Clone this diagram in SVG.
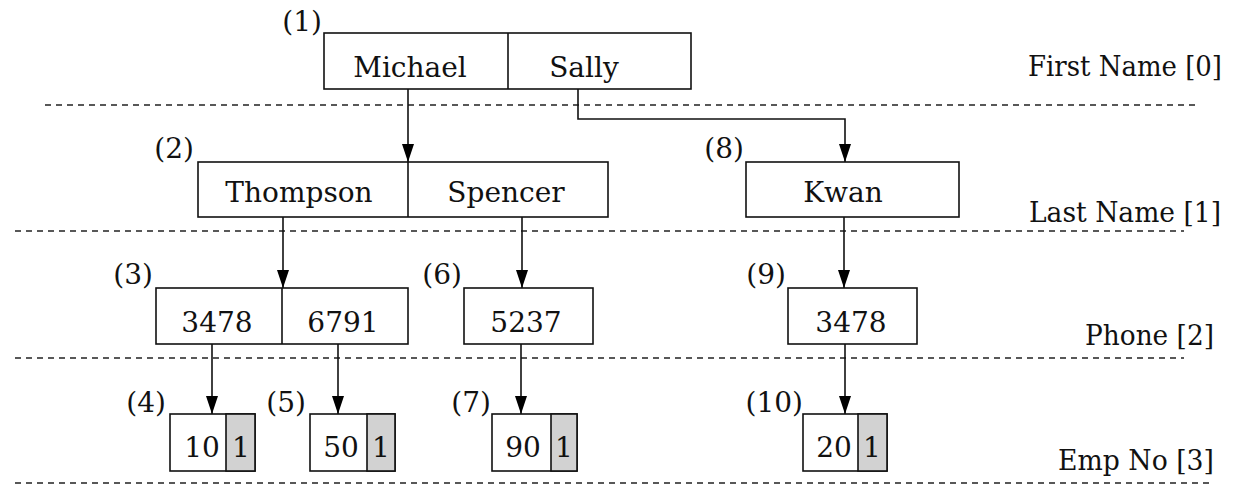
<svg xmlns="http://www.w3.org/2000/svg" width="1233" height="485" viewBox="0 0 1233 485" font-family="'DejaVu Serif', 'Liberation Serif', serif">
  <defs>
    <marker id="arrow" viewBox="0 0 18 12" refX="18" refY="6" markerWidth="18" markerHeight="12" markerUnits="userSpaceOnUse" orient="auto">
      <path d="M0,0 L18,6 L0,12 Z" fill="#000"/>
    </marker>
    <style>
      text { font-size: 28px; fill: #111; }
      .box { fill: #fff; stroke: #111; stroke-width: 1.6; }
      .cell { fill: #d2d2d2; stroke: #111; stroke-width: 1.6; }
      .div { stroke: #111; stroke-width: 1.6; }
      .level { stroke: #222; stroke-width: 1.4; stroke-dasharray: 6 5; fill: none; }
      .edge { stroke: #111; stroke-width: 1.6; fill: none; }
      .mid { text-anchor: middle; }
      .end { text-anchor: end; }
    </style>
  </defs>
  <rect width="1233" height="485" fill="#fff"/>

  <!-- level separators and level names -->
  <g id="levels">
    <line class="level" x1="45" y1="105" x2="1198" y2="105"/>
    <line class="level" x1="15" y1="231" x2="1184" y2="231"/>
    <line class="level" x1="15" y1="358" x2="1184" y2="358"/>
    <line class="level" x1="15" y1="483" x2="1214" y2="483"/>
    <text class="end" x="1222" y="76" textLength="194" lengthAdjust="spacingAndGlyphs">First Name [0]</text>
    <text class="end" x="1221" y="222" textLength="192" lengthAdjust="spacingAndGlyphs">Last Name [1]</text>
    <text class="end" x="1214" y="345" textLength="129" lengthAdjust="spacingAndGlyphs">Phone [2]</text>
    <text class="end" x="1214" y="470" textLength="156" lengthAdjust="spacingAndGlyphs">Emp No [3]</text>
  </g>

  <!-- connectors -->
  <g id="connectors">
    <path class="edge" d="M408,89 V162" marker-end="url(#arrow)"/>
    <path class="edge" d="M578,89 V119 H845 V162" marker-end="url(#arrow)"/>
    <path class="edge" d="M283,217 V288" marker-end="url(#arrow)"/>
    <path class="edge" d="M522,217 V288" marker-end="url(#arrow)"/>
    <path class="edge" d="M844,217 V288" marker-end="url(#arrow)"/>
    <path class="edge" d="M212,344 V414" marker-end="url(#arrow)"/>
    <path class="edge" d="M338,344 V414" marker-end="url(#arrow)"/>
    <path class="edge" d="M521,344 V414" marker-end="url(#arrow)"/>
    <path class="edge" d="M845,344 V414" marker-end="url(#arrow)"/>
  </g>

  <!-- (1) first names -->
  <g id="node1">
    <rect class="box" x="324" y="33" width="367" height="56"/>
    <line class="div" x1="508" y1="33" x2="508" y2="89"/>
    <text class="mid" x="410" y="77">Michael</text>
    <text class="mid" x="584" y="77">Sally</text>
    <text class="end" x="322" y="31">(1)</text>
  </g>

  <!-- (2) last names under Michael -->
  <g id="node2">
    <rect class="box" x="198" y="162" width="410" height="55"/>
    <line class="div" x1="408" y1="162" x2="408" y2="217"/>
    <text class="mid" x="299" y="202">Thompson</text>
    <text class="mid" x="506" y="202">Spencer</text>
    <text class="end" x="194" y="158">(2)</text>
  </g>

  <!-- (8) last names under Sally -->
  <g id="node8">
    <rect class="box" x="746" y="162" width="213" height="55"/>
    <text class="mid" x="843" y="202">Kwan</text>
    <text class="end" x="744" y="158">(8)</text>
  </g>

  <!-- (3) phones under Thompson -->
  <g id="node3">
    <rect class="box" x="156" y="288" width="252" height="56"/>
    <line class="div" x1="282" y1="288" x2="282" y2="344"/>
    <text class="mid" x="217" y="332">3478</text>
    <text class="mid" x="343" y="332">6791</text>
    <text class="end" x="153" y="284">(3)</text>
  </g>

  <!-- (6) phones under Spencer -->
  <g id="node6">
    <rect class="box" x="464" y="288" width="129" height="56"/>
    <text class="mid" x="526" y="332">5237</text>
    <text class="end" x="462" y="284">(6)</text>
  </g>

  <!-- (9) phones under Kwan -->
  <g id="node9">
    <rect class="box" x="788" y="288" width="129" height="56"/>
    <text class="mid" x="851" y="332">3478</text>
    <text class="end" x="786" y="284">(9)</text>
  </g>

  <!-- (4) employee number leaf -->
  <g id="node4">
    <rect class="box" x="170" y="414" width="85" height="57"/>
    <rect class="cell" x="226" y="414" width="29" height="57"/>
    <text class="mid" x="202" y="457">10</text>
    <text class="mid" x="241" y="457">1</text>
    <text class="end" x="166" y="412">(4)</text>
  </g>

  <!-- (5) employee number leaf -->
  <g id="node5">
    <rect class="box" x="310" y="414" width="85" height="57"/>
    <rect class="cell" x="367" y="414" width="28" height="57"/>
    <text class="mid" x="341" y="457">50</text>
    <text class="mid" x="381" y="457">1</text>
    <text class="end" x="306" y="412">(5)</text>
  </g>

  <!-- (7) employee number leaf -->
  <g id="node7">
    <rect class="box" x="492" y="414" width="85" height="57"/>
    <rect class="cell" x="551" y="414" width="26" height="57"/>
    <text class="mid" x="523" y="457">90</text>
    <text class="mid" x="564" y="457">1</text>
    <text class="end" x="491" y="412">(7)</text>
  </g>

  <!-- (10) employee number leaf -->
  <g id="node10">
    <rect class="box" x="803" y="414" width="84" height="57"/>
    <rect class="cell" x="858" y="414" width="29" height="57"/>
    <text class="mid" x="834" y="457">20</text>
    <text class="mid" x="872" y="457">1</text>
    <text class="end" x="803" y="412">(10)</text>
  </g>
</svg>
